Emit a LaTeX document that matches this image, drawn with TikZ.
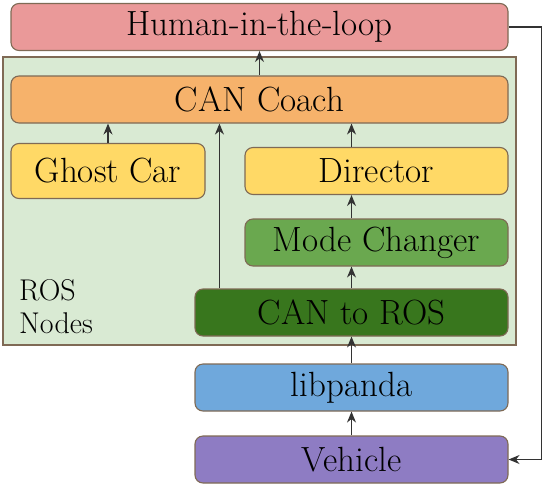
\documentclass[tikz,border=0pt]{standalone}
\usetikzlibrary{arrows.meta}
\definecolor{hitlred}{HTML}{EA9999}
\definecolor{coachorange}{HTML}{F6B26B}
\definecolor{nodeyellow}{HTML}{FFD966}
\definecolor{modegreen}{HTML}{6AA84F}
\definecolor{canrosgreen}{HTML}{38761D}
\definecolor{pandablue}{HTML}{6FA8DC}
\definecolor{vehiclepurple}{HTML}{8E7CC3}
\definecolor{rosbg}{HTML}{D9EAD3}
\definecolor{edgebrown}{HTML}{7F6A55}
\tikzset{
  block/.style={draw=edgebrown, line width=1.1pt, rounded corners=8pt, minimum height=47pt, inner sep=0pt, font=\fontsize{35}{40}\selectfont},
  flow/.style={-{Stealth[length=11pt,width=9pt]}, line width=1.2pt, draw=black!80},
}
\begin{document}
\begin{tikzpicture}[x=1pt,y=-1pt]
\useasboundingbox (0,0) rectangle (551,488);

% ROS nodes area
\draw[fill=rosbg, draw=edgebrown, line width=1.1pt] (3,57) rectangle (516,345);
\node[align=left, anchor=north west, inner sep=0pt, font=\fontsize{30}{33}\selectfont] (rosnodes) at (19,279) {ROS\\Nodes};

% blocks
\node[block, fill=hitlred, minimum width=497pt] (hitl) at (259.5,27) {Human-in-the-loop};
\node[block, fill=coachorange, minimum width=497pt] (coach) at (259.5,99.5) {CAN Coach};
\node[block, fill=nodeyellow, minimum width=194pt, minimum height=55pt] (ghost) at (108,171) {Ghost Car};
\node[block, fill=nodeyellow, minimum width=263pt] (director) at (376.5,171) {Director};
\node[block, fill=modegreen, minimum width=263pt] (mode) at (376.5,242.5) {Mode Changer};
\node[block, fill=canrosgreen, minimum width=313pt] (canros) at (351.5,312.5) {CAN to ROS};
\node[block, fill=pandablue, minimum width=313pt] (panda) at (351.5,387.5) {libpanda};
\node[block, fill=vehiclepurple, minimum width=313pt] (vehicle) at (351.5,459.5) {Vehicle};

% arrows
\draw[flow] (coach.north) -- (hitl.south);
\draw[flow] (ghost.north) -- (ghost.north |- coach.south);
\draw[flow] ([xshift=25pt]canros.north west) -- ([xshift=25pt]canros.north west |- coach.south);
\draw[flow] (director.north -| canros) -- (coach.south -| canros);
\draw[flow] (mode.north -| canros) -- (director.south -| canros);
\draw[flow] (canros.north) -- (mode.south -| canros);
\draw[flow] (panda.north) -- (canros.south);
\draw[flow] (vehicle.north) -- (panda.south);
\draw[flow] (hitl.east) -- ++(33,0) |- (vehicle.east);
\end{tikzpicture}
\end{document}
